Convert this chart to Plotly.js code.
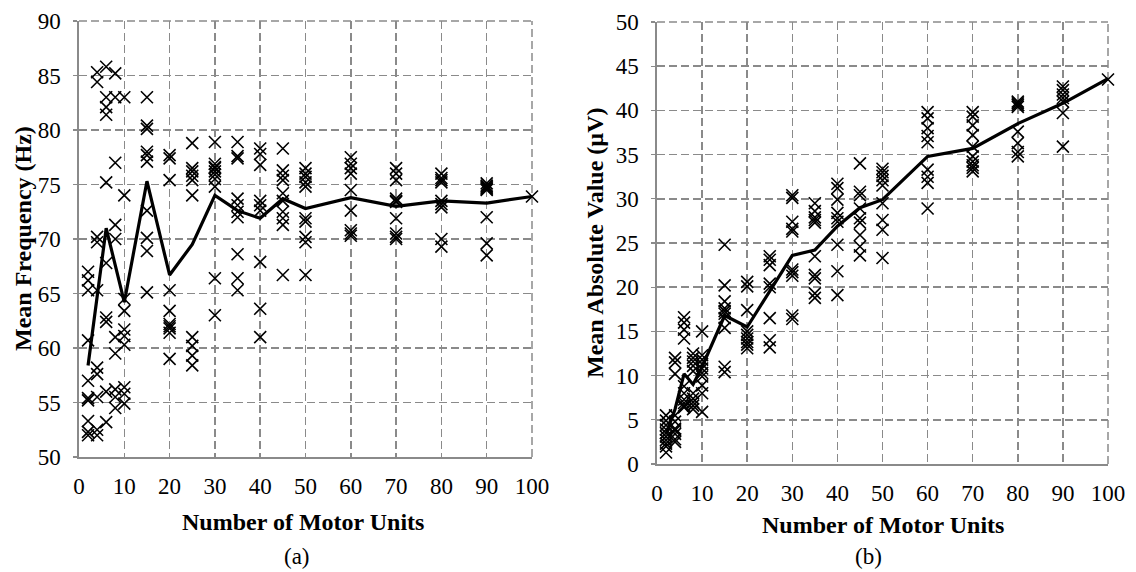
<!DOCTYPE html>
<html>
<head>
<meta charset="utf-8">
<script src="https://cdn.plot.ly/plotly-3.0.1.min.js"></script>
<style>
  html, body { margin: 0; padding: 0; background: #fff; }
  #chart { width: 1136px; height: 572px; }
</style>
</head>
<body>
<div id="chart"></div>
<script>
// Number of motor units in each simulated signal
const unitCounts = [2, 4, 6, 8, 10, 15, 20, 25, 30, 35, 40, 45, 50, 60, 70, 80, 90, 100];

// (a) Mean frequency (Hz) of every trial, one list per motor-unit count
const mfTrials = [
  [67.0, 66.2, 65.3, 60.7, 57.0, 55.4, 55.2, 53.3, 52.3, 52.0],
  [85.3, 84.4, 70.2, 69.7, 65.3, 58.2, 57.6, 55.5, 52.5, 52.0],
  [85.8, 83.0, 82.1, 81.4, 75.2, 67.8, 62.8, 62.4, 56.0, 53.2],
  [85.2, 83.0, 77.0, 71.3, 70.0, 61.0, 59.5, 56.2, 55.5, 54.5],
  [83.0, 74.0, 64.5, 63.4, 61.7, 61.1, 60.3, 56.4, 55.8, 54.9],
  [83.0, 80.4, 80.1, 78.0, 77.7, 77.1, 72.6, 70.1, 68.9, 65.1],
  [77.7, 77.4, 75.4, 65.3, 63.4, 62.2, 62.0, 61.8, 61.4, 59.0],
  [78.8, 76.5, 76.2, 75.8, 75.4, 74.0, 61.0, 60.2, 59.3, 58.4],
  [78.9, 76.9, 76.6, 76.5, 76.2, 75.9, 75.5, 74.8, 66.4, 63.0],
  [78.9, 77.6, 77.4, 73.7, 73.1, 72.5, 72.0, 68.6, 66.4, 65.3],
  [78.3, 77.8, 76.8, 73.5, 73.1, 72.6, 67.9, 63.6, 61.0],
  [78.3, 76.3, 75.8, 75.4, 74.2, 73.5, 72.5, 71.9, 71.3, 66.7],
  [76.5, 76.0, 75.7, 75.2, 74.8, 71.9, 71.6, 70.2, 69.7, 66.7],
  [77.5, 76.9, 76.5, 76.0, 74.5, 72.6, 70.8, 70.5, 70.3],
  [76.5, 76.0, 75.4, 73.7, 73.5, 73.4, 71.9, 70.5, 70.2, 70.0],
  [76.0, 75.6, 75.4, 75.2, 73.5, 73.2, 72.9, 70.0, 69.3],
  [75.1, 74.9, 74.8, 74.7, 74.6, 74.5, 72.0, 69.6, 68.5],
  [73.9]
];
// (a) Mean over trials
const mfMean = [58.4, 64.7, 71.0, 67.6, 64.2, 75.3, 66.7, 69.5, 74.0, 72.6, 71.9, 73.7, 72.8, 73.8, 73.0, 73.5, 73.3, 73.9];

// (b) Mean absolute value (µV) of every trial
const mavTrials = [
  [5.5, 4.9, 4.4, 3.9, 3.5, 3.1, 2.7, 2.3, 2.0, 1.3],
  [12.0, 11.5, 10.2, 5.5, 4.8, 4.0, 3.8, 3.4, 2.8, 2.5],
  [16.6, 16.0, 15.2, 14.2, 8.8, 8.0, 7.3, 6.9, 6.6, 6.4],
  [12.5, 12.0, 11.6, 11.1, 10.5, 8.0, 7.4, 7.0, 6.6, 6.2],
  [15.0, 12.3, 11.8, 11.3, 10.8, 10.3, 9.9, 8.9, 8.0, 5.9],
  [24.8, 20.2, 18.4, 17.6, 17.3, 17.0, 16.5, 15.4, 11.0, 10.4],
  [20.6, 20.1, 17.4, 15.0, 14.6, 14.2, 13.8, 13.5, 13.1],
  [23.5, 23.1, 22.5, 20.4, 20.0, 16.5, 14.0, 13.2],
  [30.4, 30.1, 27.4, 26.6, 26.3, 22.0, 21.7, 21.3, 16.8, 16.4],
  [29.5, 28.6, 27.9, 27.6, 27.3, 23.5, 21.4, 21.0, 19.3, 18.8],
  [31.7, 31.2, 29.9, 28.4, 27.8, 27.4, 24.8, 21.8, 19.1],
  [34.0, 30.8, 30.4, 28.9, 27.8, 27.3, 25.9, 24.6, 23.6],
  [33.4, 33.0, 32.6, 32.1, 31.5, 29.5, 27.6, 26.5, 23.3],
  [39.8, 39.1, 38.0, 37.1, 36.4, 33.3, 32.5, 31.8, 28.9],
  [39.8, 39.3, 38.3, 37.2, 35.9, 34.8, 34.2, 33.8, 33.5, 33.1],
  [41.0, 40.8, 40.6, 40.4, 37.6, 36.3, 35.3, 34.8],
  [42.7, 42.3, 41.8, 41.4, 41.0, 39.7, 35.9],
  [43.5]
];
// (b) Mean over trials
const mavMean = [3.4, 6.2, 10.2, 9.0, 11.0, 16.8, 15.5, 19.5, 23.6, 24.2, 26.9, 29.0, 29.9, 34.8, 35.7, 38.5, 40.8, 43.6];

const W = 1136, H = 572;
const fx = p => p / W;          // pixel -> paper x
const fy = p => 1 - p / H;      // pixel -> paper y

function flatten(trials) {
  const xs = [], ys = [];
  trials.forEach((vals, i) => vals.forEach(v => { xs.push(unitCounts[i]); ys.push(v); }));
  return { xs, ys };
}

const mf = flatten(mfTrials);
const mav = flatten(mavTrials);

const crossMarker = {
  symbol: 'x-thin-open', size: 12, color: '#000',
  line: { color: '#000', width: 1.6 }
};

const traces = [
  { x: mf.xs, y: mf.ys, mode: 'markers', marker: crossMarker, xaxis: 'x', yaxis: 'y', cliponaxis: false },
  { x: unitCounts, y: mfMean, mode: 'lines', line: { color: '#000', width: 3.2 }, xaxis: 'x', yaxis: 'y' },
  { x: mav.xs, y: mav.ys, mode: 'markers', marker: crossMarker, xaxis: 'x2', yaxis: 'y2', cliponaxis: false },
  { x: unitCounts, y: mavMean, mode: 'lines', line: { color: '#000', width: 3.2 }, xaxis: 'x2', yaxis: 'y2' }
];

const serif = 'Liberation Serif';
const gridGrey = '#8a8a8a';
const dash = '8px,4px';

function xAxis(domain, anchor) {
  return {
    domain, anchor, range: [0, 100], dtick: 10, tick0: 0,
    showgrid: true, gridcolor: gridGrey, gridwidth: 1.5, griddash: dash,
    showline: true, linecolor: gridGrey, linewidth: 1.6,
    zeroline: false, ticks: '', ticklabelstandoff: 8,
    tickfont: { family: serif, size: 23, color: '#000' }, fixedrange: true
  };
}
function yAxis(domain, anchor, range) {
  return {
    domain, anchor, range, dtick: 5, tick0: 0,
    showgrid: true, gridcolor: gridGrey, gridwidth: 1.5, griddash: dash,
    showline: true, linecolor: gridGrey, linewidth: 1.6,
    zeroline: false, ticks: 'outside', ticklen: 4, tickcolor: gridGrey, tickwidth: 1.3,
    ticklabelstandoff: 8,
    tickfont: { family: serif, size: 23, color: '#000' }, fixedrange: true
  };
}

// dashed top and right edges of each plot area, continuing the grid
function edgeLines(xr, yr) {
  const base = { type: 'line', xref: xr + ' domain', yref: yr + ' domain', layer: 'below',
                 line: { color: gridGrey, width: 1.5, dash: dash } };
  return [
    Object.assign({}, base, { x0: 0, x1: 1, y0: 1, y1: 1 }),
    Object.assign({}, base, { x0: 1, x1: 1, y0: 0, y1: 1 })
  ];
}

const titleFont = { family: serif, size: 24, color: '#000' };
const capFont = { family: serif, size: 23, color: '#000' };

function label(text, x, y, font, angle) {
  return { text, xref: 'paper', yref: 'paper', x: fx(x), y: fy(y), xanchor: 'center', yanchor: 'middle',
           textangle: angle || 0, showarrow: false, font };
}

const layout = {
  width: W, height: H,
  margin: { l: 0, r: 0, t: 0, b: 0 },
  paper_bgcolor: '#fff', plot_bgcolor: '#fff',
  font: { family: serif, color: '#000' },
  showlegend: false,
  xaxis: xAxis([fx(79), fx(532)], 'y'),
  yaxis: yAxis([fy(457), fy(21)], 'x', [50, 90]),
  xaxis2: xAxis([fx(657), fx(1108)], 'y2'),
  yaxis2: yAxis([fy(464), fy(22)], 'x2', [0, 50]),
  shapes: edgeLines('x', 'y').concat(edgeLines('x2', 'y2')),
  annotations: [
    label('<b>Mean Frequency (Hz)</b>', 23, 239, titleFont, -90),
    label('<b>Number of Motor Units</b>', 303, 522, titleFont),
    label('(a)', 297, 556, capFont),
    label('<b>Mean Absolute Value (µV)</b>', 595, 243, titleFont, -90),
    label('<b>Number of Motor Units</b>', 883, 525, titleFont),
    label('(b)', 868, 556, capFont)
  ]
};

Plotly.newPlot('chart', traces, layout, { displayModeBar: false, staticPlot: true });
</script>
</body>
</html>
